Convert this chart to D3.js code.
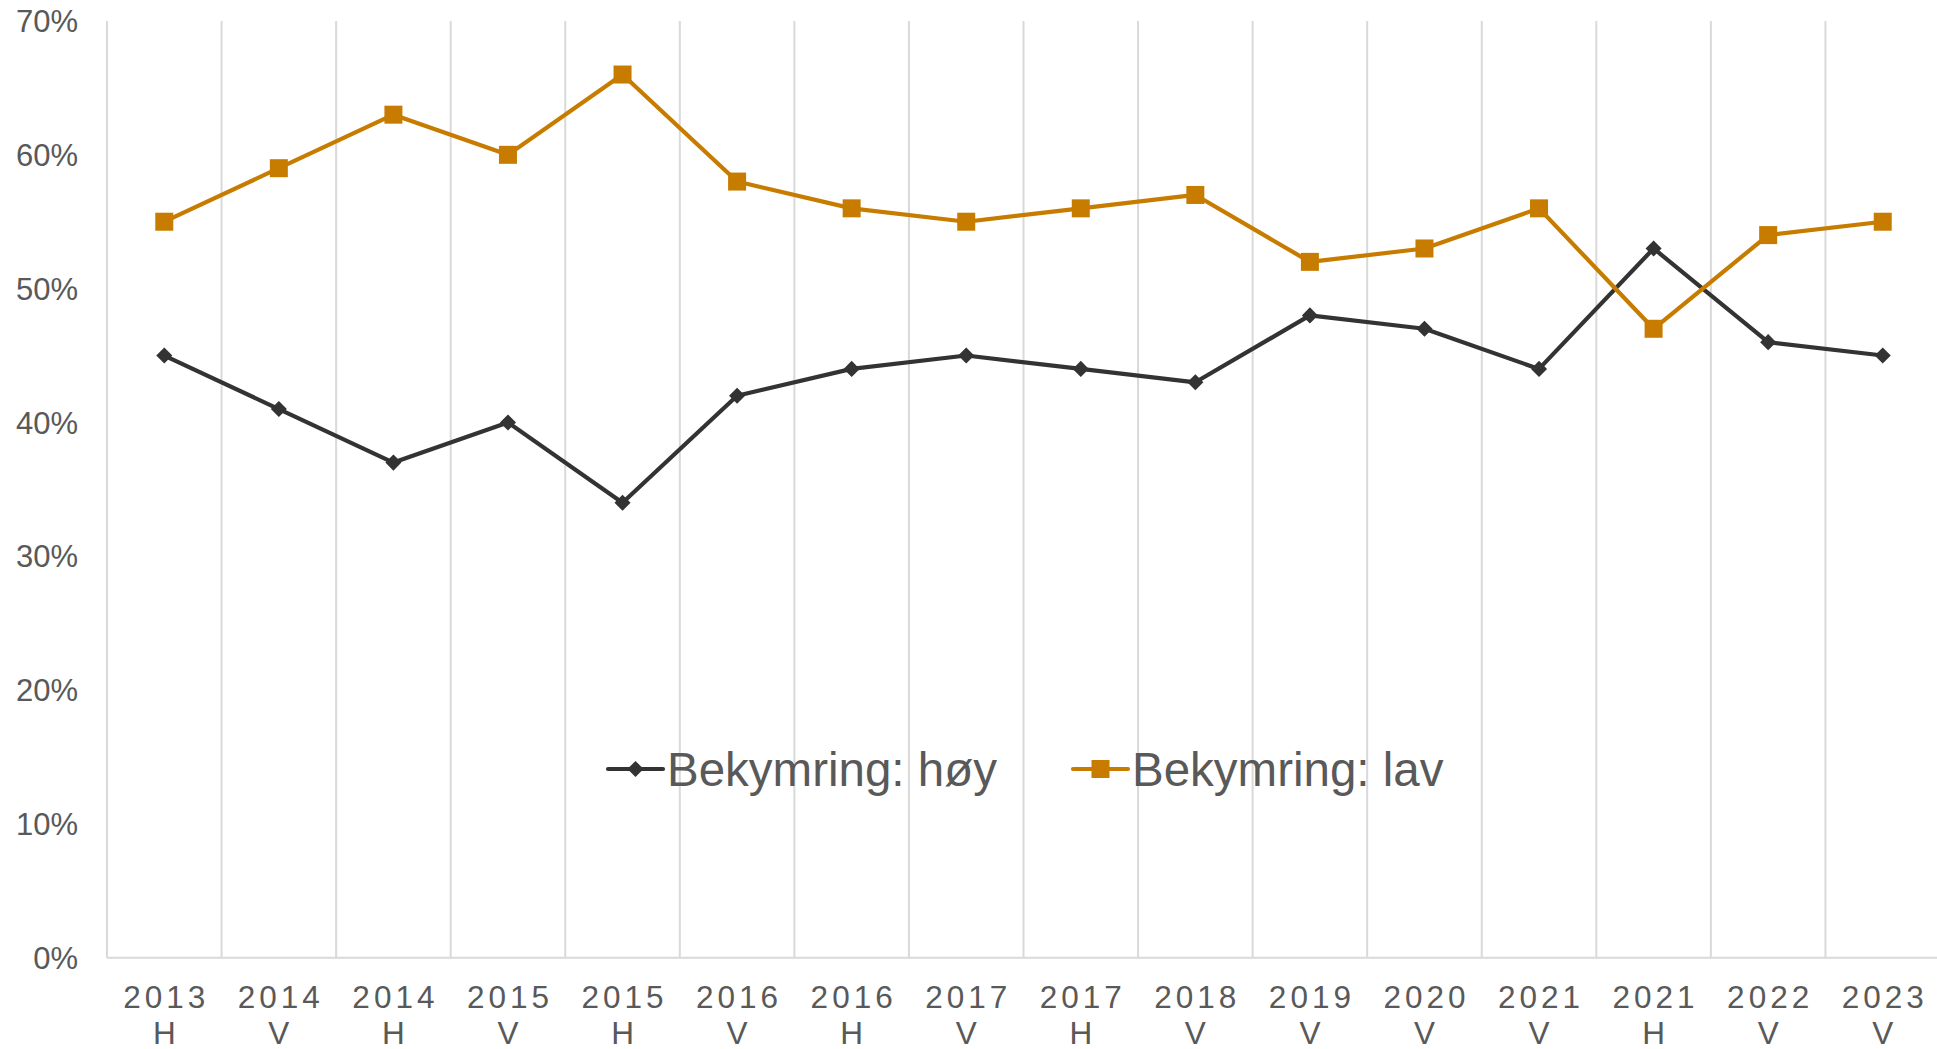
<!DOCTYPE html>
<html>
<head>
<meta charset="utf-8">
<script src="https://cdn.jsdelivr.net/npm/d3@7"></script>
<style>
  html, body { margin: 0; padding: 0; background: #fff; }
  svg { display: block; font-family: Arial, "Liberation Sans", sans-serif; }
</style>
</head>
<body>
<svg id="chart" width="1937" height="1049"></svg>
<script>
const years = ['2013', '2014', '2014', '2015', '2015', '2016', '2016', '2017', '2017', '2018', '2019', '2020', '2021', '2021', '2022', '2023'];
const terms = ['H', 'V', 'H', 'V', 'H', 'V', 'H', 'V', 'H', 'V', 'V', 'V', 'V', 'H', 'V', 'V'];
const hoy = [45, 41, 37, 40, 34, 42, 44, 45, 44, 43, 48, 47, 44, 53, 46, 45];
const lav = [55, 59, 63, 60, 66, 58, 56, 55, 56, 57, 52, 53, 56, 47, 54, 55];
const yTicks = [0, 10, 20, 30, 40, 50, 60, 70];

const svg = d3.select('#chart');
const plotLeft = 107, plotRight = 1940, plotTop = 21, plotBottom = 957.7;
const grid = '#d9d9d9';
const textColor = '#595959';
const colHoy = '#333333';
const colLav = '#c77c00';

const idx = d3.range(years.length);
const x = d3.scaleBand().domain(idx).range([plotLeft, plotRight]);
const y = d3.scaleLinear().domain([0, 70]).range([plotBottom, plotTop]);
const cx = i => x(i) + x.bandwidth() / 2;

// vertical gridlines at category boundaries
const bounds = idx.map(i => x(i)).concat([plotRight]);
svg.append('g').selectAll('line').data(bounds).join('line')
  .attr('x1', d => d).attr('x2', d => d)
  .attr('y1', plotTop).attr('y2', plotBottom)
  .attr('stroke', grid).attr('stroke-width', 2);

// bottom axis line
svg.append('line')
  .attr('x1', plotLeft).attr('x2', plotRight)
  .attr('y1', plotBottom).attr('y2', plotBottom)
  .attr('stroke', grid).attr('stroke-width', 2);

// y labels
svg.append('g').selectAll('text').data(yTicks).join('text')
  .attr('x', 78).attr('y', d => y(d)).attr('dy', '0.36em')
  .attr('text-anchor', 'end')
  .attr('font-size', 31).attr('fill', textColor)
  .text(d => d + '%');

// x labels, two lines
const ls = 4;
const xl = svg.append('g').selectAll('text').data(idx).join('text')
  .attr('text-anchor', 'middle')
  .attr('font-size', 31.5).attr('fill', textColor)
  .attr('letter-spacing', ls);
xl.append('tspan').attr('x', i => cx(i) + ls / 2).attr('y', 1008).text(i => years[i]);
xl.append('tspan').attr('x', i => cx(i) + ls / 2).attr('y', 1044).text(i => terms[i]);

const line = d3.line().x((d, i) => cx(i)).y(d => y(d));
const diamond = d3.symbol().type(d3.symbolDiamond2).size(165);

function drawSeries(vals, color, marker) {
  svg.append('path').datum(vals)
    .attr('fill', 'none').attr('stroke', color)
    .attr('stroke-width', 4.2).attr('stroke-linejoin', 'round')
    .attr('d', line);
  const g = svg.append('g');
  if (marker === 'diamond') {
    g.selectAll('path').data(vals).join('path')
      .attr('d', diamond)
      .attr('transform', (d, i) => `translate(${cx(i)},${y(d)})`)
      .attr('fill', color);
  } else {
    g.selectAll('rect').data(vals).join('rect')
      .attr('x', (d, i) => cx(i) - 9).attr('y', d => y(d) - 9)
      .attr('width', 18).attr('height', 18)
      .attr('fill', color);
  }
}

drawSeries(hoy, colHoy, 'diamond');
drawSeries(lav, colLav, 'square');

// legend
const legend = [
  { name: 'Bekymring: høy', color: colHoy, marker: 'diamond', x: 608 },
  { name: 'Bekymring: lav', color: colLav, marker: 'square', x: 1073 }
];
const ly = 769;
legend.forEach(l => {
  const g = svg.append('g');
  g.append('line').attr('x1', l.x).attr('x2', l.x + 55)
    .attr('y1', ly).attr('y2', ly)
    .attr('stroke', l.color).attr('stroke-width', 4.2).attr('stroke-linecap', 'round');
  if (l.marker === 'diamond') {
    g.append('path').attr('d', diamond)
      .attr('transform', `translate(${l.x + 27.5},${ly})`).attr('fill', l.color);
  } else {
    g.append('rect').attr('x', l.x + 27.5 - 9).attr('y', ly - 9)
      .attr('width', 18).attr('height', 18).attr('fill', l.color);
  }
  g.append('text').attr('x', l.x + 59).attr('y', ly).attr('dy', '0.36em')
    .attr('font-size', 47.5).attr('fill', textColor)
    .text(l.name);
});
</script>
</body>
</html>
